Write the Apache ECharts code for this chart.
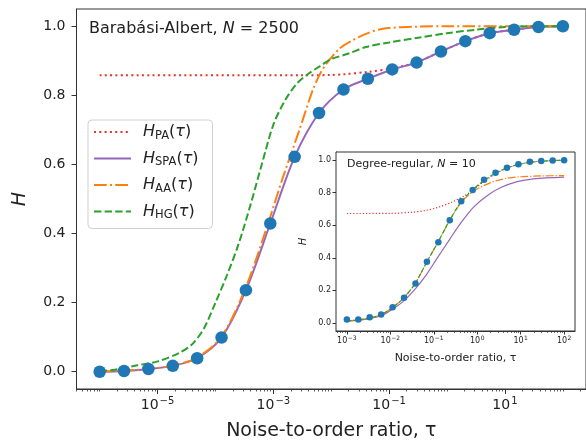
<!DOCTYPE html>
<html><head><meta charset="utf-8">
<script src="https://cdn.jsdelivr.net/npm/echarts@6/dist/echarts.min.js"></script>
<style>html,body{margin:0;padding:0;background:#fff}#c{width:586px;height:446px}</style>
</head><body><div id="c"></div>
<script>
// ---------- Main panel (Barabási-Albert, N = 2500); x values are log10(tau) ----------
const mainTauExp = [-6, -5.579, -5.158, -4.737, -4.316, -3.895, -3.474, -3.053, -2.632, -2.211, -1.789, -1.368, -0.947, -0.526, -0.105, 0.316, 0.737, 1.158, 1.579, 2];
const mainSim    = [0.0, 0.002, 0.008, 0.017, 0.039, 0.099, 0.236, 0.429, 0.622, 0.749, 0.817, 0.848, 0.875, 0.895, 0.927, 0.957, 0.980, 0.990, 0.998, 1.0];
const mainSPA    = [0.0, 0.002, 0.008, 0.017, 0.039, 0.099, 0.236, 0.429, 0.622, 0.749, 0.817, 0.848, 0.875, 0.895, 0.927, 0.957, 0.980, 0.990, 0.998, 1.0];
const mainPAExp  = [-6, -2.5, -2.0, -1.789, -1.368, -0.947, -0.526, -0.105, 0.316, 0.737, 1.158, 1.579, 2];
const mainPA     = [0.858, 0.858, 0.859, 0.861, 0.868, 0.878, 0.896, 0.927, 0.957, 0.980, 0.990, 0.998, 1.0];
const mainAAExp  = [-6, -5.158, -4.737, -4.316, -3.895, -3.474, -3.07, -2.84, -2.55, -2.32, -2.2, -2.09, -1.86, -1.68, -1.4, -1.11, -0.5, 0, 2];
const mainAA     = [0.0, 0.008, 0.018, 0.041, 0.102, 0.245, 0.44, 0.56, 0.70, 0.815, 0.86, 0.89, 0.935, 0.955, 0.978, 0.993, 0.999, 1.0, 1.0];
const mainHGExp  = [-6, -5.78, -5.37, -5.0, -4.62, -4.4, -4.2, -4.0, -3.8, -3.6, -3.4, -3.2, -3.0, -2.8, -2.6, -2.4, -2.2, -2.0, -1.7, -1.4, -1.0, -0.5, 0, 0.5, 1.0, 1.5, 2];
const mainHG     = [0.002, 0.005, 0.018, 0.03, 0.055, 0.08, 0.125, 0.2, 0.28, 0.37, 0.48, 0.6, 0.715, 0.785, 0.833, 0.862, 0.884, 0.905, 0.921, 0.94, 0.953, 0.967, 0.98, 0.99, 0.998, 1.0, 1.0];
const mainXTicks = [-5, -3, -1, 1];
const mainYTicks = [0, 0.2, 0.4, 0.6, 0.8, 1.0];

// ---------- Inset (Degree-regular, N = 10) ----------
const insTauExp = [-3, -2.737, -2.474, -2.211, -1.947, -1.684, -1.421, -1.158, -0.895, -0.632, -0.368, -0.105, 0.158, 0.421, 0.684, 0.947, 1.211, 1.474, 1.737, 2];
const insSim    = [0.02, 0.02, 0.035, 0.051, 0.096, 0.154, 0.242, 0.375, 0.496, 0.631, 0.748, 0.816, 0.879, 0.922, 0.953, 0.974, 0.990, 0.994, 0.998, 1.0];
const insHG     = [0.012, 0.018, 0.03, 0.05, 0.095, 0.155, 0.245, 0.375, 0.5, 0.632, 0.745, 0.818, 0.875, 0.92, 0.952, 0.973, 0.986, 0.993, 0.997, 1.0];
const insAAExp  = [-3, -2.737, -2.474, -2.211, -1.947, -1.684, -1.421, -1.158, -0.895, -0.632, -0.368, -0.105, 0.158, 0.421, 0.684, 0.947, 1.474, 2];
const insAA     = [0.012, 0.018, 0.03, 0.05, 0.095, 0.155, 0.245, 0.375, 0.5, 0.63, 0.74, 0.805, 0.845, 0.872, 0.888, 0.897, 0.903, 0.905];
const insSPAExp = [-3, -2.5, -2.2, -1.94, -1.69, -1.42, -1.16, -0.94, -0.63, -0.36, -0.09, 0.22, 0.53, 0.92, 1.3, 2];
const insSPA    = [0.01, 0.025, 0.045, 0.085, 0.135, 0.21, 0.30, 0.39, 0.515, 0.62, 0.71, 0.78, 0.83, 0.868, 0.885, 0.895];
const insPAExp  = [-3, -2.0, -1.5, -1.2, -0.9, -0.6, -0.3, -0.1, 0.16, 0.42, 0.68, 0.95, 1.21, 1.5, 2];
const insPA     = [0.672, 0.673, 0.68, 0.69, 0.71, 0.74, 0.78, 0.815, 0.87, 0.915, 0.95, 0.973, 0.987, 0.994, 1.0];
const insXTicks = [-3, -2, -1, 0, 1, 2];
const insYTicks = [0, 0.2, 0.4, 0.6, 0.8, 1.0];

const C = {PA:'#e8302e', SPA:'#9467bd', AA:'#ff7f0e', HG:'#2ca02c', sim:'#1f77b4'};
const FONT = 'DejaVu Sans';
const pairs = (xs, ys) => xs.map((x, i) => [x, ys[i]]);
function minorTicks(lo, hi, majors) {
  const out = [];
  for (let n = Math.floor(lo) - 1; n <= Math.ceil(hi); n++) {
    for (let k = 1; k <= 9; k++) {
      const v = n + Math.log10(k);
      if (v >= lo && v <= hi && !majors.includes(Math.round(v * 1e6) / 1e6)) out.push(v);
    }
  }
  return out;
}
const expFmt = v => { const r = Math.round(v); return '{b|10}{e|' + (r < 0 ? '\u2212' + (-r) : r) + '}'; };

const chart = echarts.init(document.getElementById('c'), null, {renderer: 'canvas'});
const axisCol = '#333';
const lineSeries = (name, xs, ys, opt) => Object.assign({
  name, type: 'line', data: pairs(xs, ys), symbol: 'none', smooth: 0.3,
  xAxisIndex: 0, yAxisIndex: 0, z: 3
}, opt);
const txt = (size, extra) => Object.assign({fontSize: size, fontFamily: FONT, color: '#222', fontWeight: 'normal'}, extra || {});

const option = {
  animation: false,
  backgroundColor: '#fff',
  textStyle: {fontFamily: FONT},
  title: [
    {left: 84, top: 16, text: '{t|Barabási-Albert, }{i|N}{t| = 2500}',
     textStyle: {fontWeight: 'normal', rich: {t: txt(16), i: txt(16, {fontStyle: 'italic'})}}},
    {left: 342, top: 154, text: '{t|Degree-regular, }{i|N}{t| = 10}',
     textStyle: {fontWeight: 'normal', rich: {t: txt(11), i: txt(11, {fontStyle: 'italic'})}}}
  ],
  legend: {
    orient: 'vertical', left: 88, top: 120, width: 120,
    data: ['PA', 'SPA', 'AA', 'HG'],
    padding: [4, 14, 7, 5], itemGap: 8.5, itemWidth: 37, itemHeight: 12,
    itemStyle: {opacity: 0},
    backgroundColor: 'rgba(255,255,255,0.85)', borderColor: '#d0d0d0', borderWidth: 1, borderRadius: 4,
    formatter: n => '{h|H}{s|' + n + '}{p|(}{u|τ}{p|)}',
    textStyle: {rich: {
      h: txt(16, {fontStyle: 'italic', padding: [0, 0, 0, 7]}),
      s: txt(11.5, {padding: [8, 0, 0, 0]}),
      p: txt(16),
      u: txt(16, {fontStyle: 'italic'})
    }}
  },
  grid: [
    {left: 76.5, right: -0.5, top: 9, bottom: 57, show: true, borderColor: axisCol, borderWidth: 1, backgroundColor: 'transparent'},
    {left: 336, right: 11, top: 152, bottom: 115, show: true, borderColor: axisCol, borderWidth: 1, backgroundColor: '#fff', z: 5}
  ],
  xAxis: [
    {type: 'value', gridIndex: 0, min: -6.4, max: 2.4,
     name: 'Noise-to-order ratio, τ', nameLocation: 'middle', nameGap: 33,
     nameTextStyle: txt(19),
     axisLine: {show: true, onZero: false, lineStyle: {color: axisCol, width: 1}},
     axisTick: {show: true, customValues: mainXTicks, length: 5, lineStyle: {color: axisCol}},
     axisLabel: {show: true, customValues: mainXTicks, margin: 7, formatter: expFmt,
       rich: {b: txt(14), e: txt(10, {padding: [0, 0, 9, 1]})}},
     splitLine: {show: false}},
    {type: 'value', gridIndex: 0, min: -6.4, max: 2.4, position: 'bottom',
     axisLine: {show: false, onZero: false}, axisLabel: {show: false}, splitLine: {show: false},
     axisTick: {show: true, customValues: minorTicks(-6.4, 2.4, mainXTicks), length: 2.5, lineStyle: {color: axisCol, width: 0.8}}},
    {type: 'value', gridIndex: 1, min: -3.25, max: 2.25,
     name: 'Noise-to-order ratio, τ', nameLocation: 'middle', nameGap: 22,
     nameTextStyle: txt(11),
     axisLine: {show: true, onZero: false, lineStyle: {color: axisCol, width: 1}},
     axisTick: {show: true, customValues: insXTicks, length: 3.5, lineStyle: {color: axisCol}},
     axisLabel: {show: true, customValues: insXTicks, margin: 4, formatter: expFmt,
       rich: {b: txt(8), e: txt(6, {padding: [0, 0, 6, 0.5]})}},
     splitLine: {show: false}},
    {type: 'value', gridIndex: 1, min: -3.25, max: 2.25, position: 'bottom',
     axisLine: {show: false, onZero: false}, axisLabel: {show: false}, splitLine: {show: false},
     axisTick: {show: true, customValues: minorTicks(-3.25, 2.25, insXTicks), length: 2, lineStyle: {color: axisCol, width: 0.7}}}
  ],
  yAxis: [
    {type: 'value', gridIndex: 0, min: -0.05, max: 1.05,
     name: 'H', nameLocation: 'middle', nameGap: 47, nameRotate: 90,
     nameTextStyle: txt(19, {fontStyle: 'italic'}),
     axisLine: {show: true, onZero: false, lineStyle: {color: axisCol, width: 1}},
     axisTick: {show: true, customValues: mainYTicks, length: 5, lineStyle: {color: axisCol}},
     axisLabel: Object.assign({show: true, customValues: mainYTicks, margin: 11, formatter: v => v.toFixed(1)}, txt(14)),
     splitLine: {show: false}},
    {type: 'value', gridIndex: 1, min: -0.05, max: 1.05,
     name: 'H', nameLocation: 'middle', nameGap: 28, nameRotate: 90,
     nameTextStyle: txt(10, {fontStyle: 'italic'}),
     axisLine: {show: true, onZero: false, lineStyle: {color: axisCol, width: 1}},
     axisTick: {show: true, customValues: insYTicks, length: 3.5, lineStyle: {color: axisCol}},
     axisLabel: Object.assign({show: true, customValues: insYTicks, margin: 5, formatter: v => v.toFixed(1)}, txt(8)),
     splitLine: {show: false}}
  ],
  series: [
    lineSeries('PA', mainPAExp, mainPA, {lineStyle: {color: C.PA, width: 2, type: [2, 3.3]}, itemStyle: {color: C.PA}}),
    lineSeries('SPA', mainTauExp, mainSPA, {lineStyle: {color: C.SPA, width: 2}, itemStyle: {color: C.SPA}}),
    lineSeries('AA', mainAAExp, mainAA, {lineStyle: {color: C.AA, width: 2, type: [12.8, 3.2, 2, 3.2]}, itemStyle: {color: C.AA}}),
    lineSeries('HG', mainHGExp, mainHG, {lineStyle: {color: C.HG, width: 2, type: [7.4, 3.2]}, itemStyle: {color: C.HG}}),
    {name: 'sim', type: 'scatter', data: pairs(mainTauExp, mainSim), symbolSize: 12.5, itemStyle: {color: C.sim, opacity: 1}, xAxisIndex: 0, yAxisIndex: 0, z: 4},

    lineSeries('insPA', insPAExp, insPA, {xAxisIndex: 2, yAxisIndex: 1, z: 6, lineStyle: {color: C.PA, width: 1.2, type: [1.2, 2]}}),
    lineSeries('insSPA', insSPAExp, insSPA, {xAxisIndex: 2, yAxisIndex: 1, z: 6, lineStyle: {color: C.SPA, width: 1.2}}),
    lineSeries('insAA', insAAExp, insAA, {xAxisIndex: 2, yAxisIndex: 1, z: 6, lineStyle: {color: C.AA, width: 1.2, type: [7.7, 1.9, 1.2, 1.9]}}),
    lineSeries('insHG', insTauExp, insHG, {xAxisIndex: 2, yAxisIndex: 1, z: 6, lineStyle: {color: C.HG, width: 1.2, type: [4.4, 1.9]}}),
    {name: 'insSim', type: 'scatter', data: pairs(insTauExp, insSim), symbolSize: 6.5, itemStyle: {color: C.sim, opacity: 1}, xAxisIndex: 2, yAxisIndex: 1, z: 7}
  ]
};
chart.setOption(option);
</script>
</body></html>
